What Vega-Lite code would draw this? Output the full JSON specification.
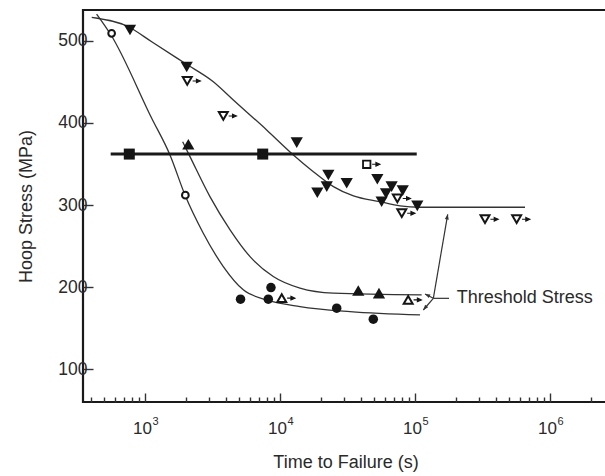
{
  "$schema": "https://vega.github.io/schema/vega-lite/v6.json",
  "autosize": {"type": "none"},
  "padding": {"left": 83, "top": 10, "right": 0, "bottom": 74},
  "width": 525,
  "height": 392,
  "background": "white",
  "config": {
    "view": {"stroke": "#1a1a1a", "strokeWidth": 2.2},
    "axis": {"domain": false, "grid": false, "labelFont": "Liberation Sans", "titleFont": "Liberation Sans", "labelColor": "#2a2a2a", "titleColor": "#2a2a2a", "titleFontWeight": "normal", "tickColor": "#333", "tickWidth": 1.4, "labelOverlap": false, "labelFlush": false},
    "text": {"font": "Liberation Sans"}
  },
  "datasets": {
    "curves": [
      {"curve": "U", "t": 403, "s": 528.5}, {"curve": "U", "t": 752, "s": 517}, {"curve": "U", "t": 1121, "s": 498.8}, {"curve": "U", "t": 1979, "s": 472.5}, {"curve": "U", "t": 3206, "s": 450.1}, {"curve": "U", "t": 4510, "s": 427.9}, {"curve": "U", "t": 7962, "s": 391.4}, {"curve": "U", "t": 12560, "s": 361}, {"curve": "U", "t": 17660, "s": 340.6}, {"curve": "U", "t": 24870, "s": 322.4}, {"curve": "U", "t": 35000, "s": 311}, {"curve": "U", "t": 55100, "s": 304}, {"curve": "U", "t": 77400, "s": 298.9}, {"curve": "U", "t": 109000, "s": 297.3}, {"curve": "U", "t": 653000, "s": 297.3},
      {"curve": "C", "t": 438, "s": 532.5}, {"curve": "C", "t": 560, "s": 507}, {"curve": "C", "t": 1121, "s": 405.6}, {"curve": "C", "t": 1531, "s": 360.9}, {"curve": "C", "t": 1978, "s": 312.2}, {"curve": "C", "t": 2702, "s": 265.7}, {"curve": "C", "t": 3802, "s": 225.1}, {"curve": "C", "t": 5346, "s": 196.7}, {"curve": "C", "t": 7962, "s": 184.5}, {"curve": "C", "t": 14060, "s": 176.4}, {"curve": "C", "t": 33000, "s": 170.3}, {"curve": "C", "t": 109000, "s": 166.3},
      {"curve": "T", "t": 1900, "s": 377}, {"curve": "T", "t": 2154, "s": 358.9}, {"curve": "T", "t": 3027, "s": 310.2}, {"curve": "T", "t": 4266, "s": 269.8}, {"curve": "T", "t": 5997, "s": 237.2}, {"curve": "T", "t": 8913, "s": 212.9}, {"curve": "T", "t": 14060, "s": 198.8}, {"curve": "T", "t": 24830, "s": 192.7}, {"curve": "T", "t": 112000, "s": 190.6}
    ],
    "hline": [{"t": 557, "s": 362}, {"t": 103000, "s": 362}],
    "points": [
      {"m": "dtri", "st": "f", "t": 774, "s": 513}, {"m": "dtri", "st": "f", "t": 2036, "s": 468}, {"m": "dtri", "st": "f", "t": 13300, "s": 376}, {"m": "dtri", "st": "f", "t": 22800, "s": 336.6}, {"m": "dtri", "st": "f", "t": 22200, "s": 322.4}, {"m": "dtri", "st": "f", "t": 18900, "s": 315}, {"m": "dtri", "st": "f", "t": 31200, "s": 326.5}, {"m": "dtri", "st": "f", "t": 52600, "s": 331.4}, {"m": "dtri", "st": "f", "t": 67100, "s": 322.4}, {"m": "dtri", "st": "f", "t": 81100, "s": 317.5}, {"m": "dtri", "st": "f", "t": 61000, "s": 314}, {"m": "dtri", "st": "f", "t": 56600, "s": 304}, {"m": "dtri", "st": "f", "t": 104000, "s": 299},
      {"m": "dtri", "st": "r", "t": 2055, "s": 451}, {"m": "dtri", "st": "r", "t": 3802, "s": 408.4}, {"m": "dtri", "st": "r", "t": 74000, "s": 308}, {"m": "dtri", "st": "r", "t": 79800, "s": 290}, {"m": "dtri", "st": "r", "t": 330000, "s": 282.7}, {"m": "dtri", "st": "r", "t": 566000, "s": 282.7},
      {"m": "utri", "st": "f", "t": 2094, "s": 374}, {"m": "utri", "st": "f", "t": 38000, "s": 195.9}, {"m": "utri", "st": "f", "t": 54100, "s": 192.7},
      {"m": "utri", "st": "r", "t": 10300, "s": 186.6}, {"m": "utri", "st": "r", "t": 89000, "s": 184.5},
      {"m": "circ", "st": "f", "t": 5100, "s": 185.4}, {"m": "circ", "st": "f", "t": 8570, "s": 199.5}, {"m": "circ", "st": "f", "t": 8190, "s": 185.4}, {"m": "circ", "st": "f", "t": 26300, "s": 174.4}, {"m": "circ", "st": "f", "t": 49100, "s": 161},
      {"m": "circ", "st": "o", "t": 566, "s": 509}, {"m": "circ", "st": "o", "t": 1990, "s": 312},
      {"m": "sq", "st": "f", "t": 765, "s": 362}, {"m": "sq", "st": "f", "t": 7447, "s": 362},
      {"m": "sq", "st": "r", "t": 43900, "s": 349.6}
    ],
    "annot": [
      {"seg": "a1", "t": 136700, "s": 186.4}, {"seg": "a1", "t": 174700, "s": 288.7},
      {"seg": "a2", "t": 136700, "s": 186.4}, {"seg": "a2", "t": 118600, "s": 191.7},
      {"seg": "a3", "t": 136700, "s": 186.4}, {"seg": "a3", "t": 115200, "s": 172.2},
      {"seg": "a4", "t": 136700, "s": 186.4}, {"seg": "a4", "t": 178700, "s": 186.4}
    ],
    "tips": [
      {"dir": "up", "t": 174700, "s": 288.7},
      {"dir": "mid", "t": 118600, "s": 191.7},
      {"dir": "low", "t": 115200, "s": 172.2}
    ],
    "label": [{"t": 203800, "s": 187.4, "text": "Threshold Stress"}]
  },
  "resolve": {"axis": {"x": "independent"}},
  "encoding": {
    "x": {"field": "t", "type": "quantitative", "scale": {"type": "log", "domain": [347.3, 2689000], "nice": false}, "axis": null},
    "y": {"field": "s", "type": "quantitative", "scale": {"domain": [60.2, 537.4], "nice": false, "zero": false},
      "axis": {"values": [100, 200, 300, 400, 500], "tickSize": -10, "labelFontSize": 17.5, "labelPadding": 6, "title": "Hoop Stress (MPa)", "titleFontSize": 18, "titlePadding": 22}}
  },
  "layer": [
    {
      "data": {"name": "curves"},
      "mark": {"type": "line", "interpolate": "monotone", "stroke": "#333", "strokeWidth": 1.3},
      "encoding": {
        "detail": {"field": "curve"},
        "x": {"field": "t", "type": "quantitative", "scale": {"type": "log", "domain": [347.3, 2689000], "nice": false},
          "axis": {"orient": "bottom", "values": [1000, 10000, 100000, 1000000], "tickSize": -9, "labelExpr": "'10'", "labelFontSize": 17, "labelPadding": 27, "labelOffset": -3, "title": "Time to Failure (s)", "titleFontSize": 18, "titlePadding": 17}}
      }
    },
    {
      "data": {"name": "hline"},
      "mark": {"type": "line", "stroke": "#1a1a1a", "strokeWidth": 3},
      "encoding": {
        "x": {"field": "t", "type": "quantitative", "scale": {"type": "log", "domain": [347.3, 2689000], "nice": false},
          "axis": {"orient": "bottom", "values": [400, 500, 600, 700, 800, 900, 2000, 3000, 4000, 5000, 6000, 7000, 8000, 9000, 20000, 30000, 40000, 50000, 60000, 70000, 80000, 90000, 200000, 300000, 400000, 500000, 600000, 700000, 800000, 900000, 2000000], "tickSize": -5, "labels": false, "title": null}}
      }
    },
    {
      "data": {"name": "annot"},
      "mark": {"type": "line", "stroke": "#333", "strokeWidth": 1.2},
      "encoding": {"detail": {"field": "seg"}}
    },
    {
      "data": {"name": "tips"},
      "transform": [{"filter": "datum.dir == 'up'"}],
      "mark": {"type": "point", "shape": "M0,0L-1,2.6L1,2.6Z", "size": 16, "filled": true, "color": "#333", "opacity": 1, "angle": 10}
    },
    {
      "data": {"name": "tips"},
      "transform": [{"filter": "datum.dir == 'mid'"}],
      "mark": {"type": "point", "shape": "M0,0L-1,2.6L1,2.6Z", "size": 16, "filled": true, "color": "#333", "opacity": 1, "angle": 297}
    },
    {
      "data": {"name": "tips"},
      "transform": [{"filter": "datum.dir == 'low'"}],
      "mark": {"type": "point", "shape": "M0,0L-1,2.6L1,2.6Z", "size": 16, "filled": true, "color": "#333", "opacity": 1, "angle": 220}
    },
    {
      "data": {"name": "points"},
      "transform": [{"filter": "datum.m == 'dtri' && datum.st == 'f'"}],
      "mark": {"type": "point", "shape": "triangle-down", "size": 150, "filled": true, "color": "#151515", "opacity": 1}
    },
    {
      "data": {"name": "points"},
      "transform": [{"filter": "datum.m == 'dtri' && datum.st == 'r'"}],
      "mark": {"type": "point", "shape": "triangle-down", "size": 80, "fill": "white", "stroke": "#151515", "strokeWidth": 2, "opacity": 1, "fillOpacity": 1}
    },
    {
      "data": {"name": "points"},
      "transform": [{"filter": "datum.m == 'utri' && datum.st == 'f'"}],
      "mark": {"type": "point", "shape": "triangle-up", "size": 150, "filled": true, "color": "#151515", "opacity": 1}
    },
    {
      "data": {"name": "points"},
      "transform": [{"filter": "datum.m == 'utri' && datum.st == 'r'"}],
      "mark": {"type": "point", "shape": "triangle-up", "size": 80, "fill": "white", "stroke": "#151515", "strokeWidth": 2, "opacity": 1, "fillOpacity": 1}
    },
    {
      "data": {"name": "points"},
      "transform": [{"filter": "datum.m == 'circ' && datum.st == 'f'"}],
      "mark": {"type": "point", "shape": "circle", "size": 90, "filled": true, "color": "#151515", "opacity": 1}
    },
    {
      "data": {"name": "points"},
      "transform": [{"filter": "datum.m == 'circ' && datum.st == 'o'"}],
      "mark": {"type": "point", "shape": "circle", "size": 45, "fill": "white", "stroke": "#151515", "strokeWidth": 2, "opacity": 1, "fillOpacity": 1}
    },
    {
      "data": {"name": "points"},
      "transform": [{"filter": "datum.m == 'sq' && datum.st == 'f'"}],
      "mark": {"type": "point", "shape": "square", "size": 121, "filled": true, "color": "#151515", "opacity": 1}
    },
    {
      "data": {"name": "points"},
      "transform": [{"filter": "datum.m == 'sq' && datum.st == 'r'"}],
      "mark": {"type": "point", "shape": "square", "size": 55, "fill": "white", "stroke": "#151515", "strokeWidth": 1.8, "opacity": 1, "fillOpacity": 1}
    },
    {
      "data": {"name": "points"},
      "transform": [{"filter": "datum.st == 'r'"}],
      "mark": {"type": "point", "shape": "M2.7,0L5,0M4.6,-0.9L6.6,0L4.6,0.9Z", "size": 16, "fill": "#151515", "stroke": "#151515", "strokeWidth": 1.1, "opacity": 1, "fillOpacity": 1},
      "encoding": {
        "x": {"field": "t", "type": "quantitative", "scale": {"type": "log", "domain": [347.3, 2689000], "nice": false},
          "axis": {"orient": "bottom", "values": [1000, 10000, 100000, 1000000], "ticks": false, "labelExpr": "datum.value == 1000 ? '3' : datum.value == 10000 ? '4' : datum.value == 100000 ? '5' : '6'", "labelFontSize": 11, "labelPadding": 13, "labelOffset": 10, "title": null}}
      }
    },
    {
      "data": {"name": "label"},
      "mark": {"type": "text", "align": "left", "baseline": "middle", "fontSize": 18, "color": "#2a2a2a"},
      "encoding": {"text": {"field": "text"}}
    }
  ]
}
